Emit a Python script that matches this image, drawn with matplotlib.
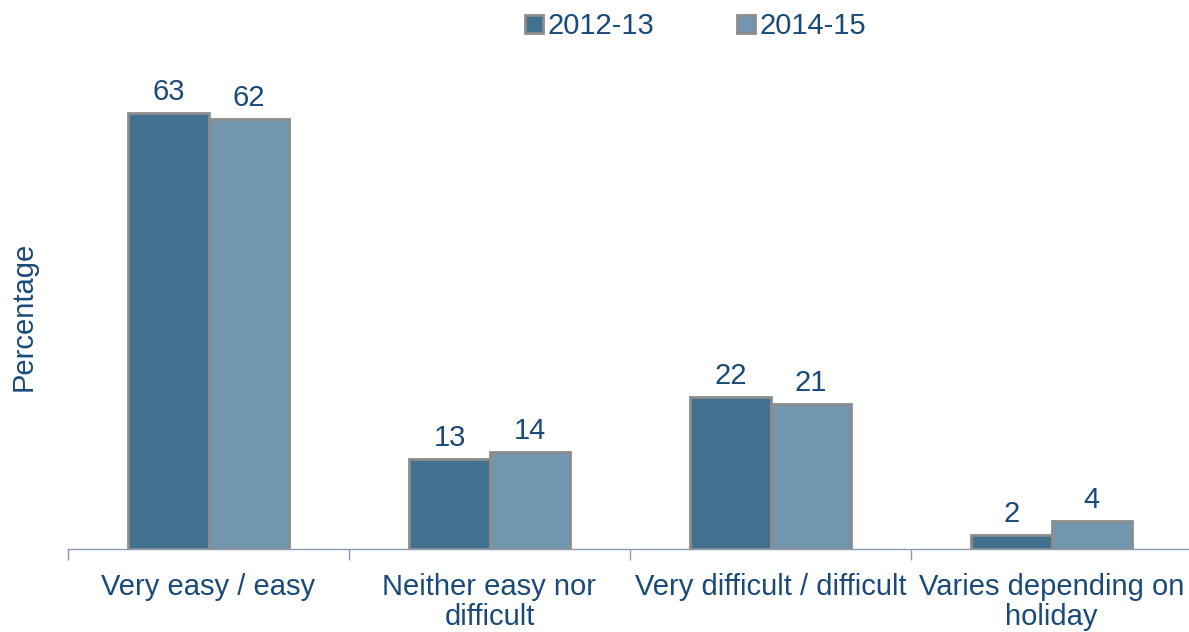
import numpy as np
import matplotlib
matplotlib.use("Agg")
import matplotlib.pyplot as plt

categories = ["Very easy / easy", "Neither easy nor\ndifficult",
              "Very difficult / difficult", "Varies depending on\nholiday"]
series_names = ["2012-13", "2014-15"]
values_2012 = [63, 13, 22, 2]
values_2014 = [62, 14, 21, 4]

text_color = "#1a4a7a"
colors = ["#41718f", "#7196ae"]
edge = "#8c8c8c"

plt.rcParams["font.family"] = ["Liberation Sans", "DejaVu Sans"]

fig = plt.figure(figsize=(11.89, 6.32), dpi=100)
ax = fig.add_axes([68 / 1189, 83 / 632, 1124 / 1189, 485 / 632])

x = np.arange(len(categories))
w = 0.285
bars1 = ax.bar(x - w / 2, values_2012, w, color=colors[0], edgecolor=edge,
               linewidth=2, label=series_names[0])
bars2 = ax.bar(x + w / 2, values_2014, w, color=colors[1], edgecolor=edge,
               linewidth=2, label=series_names[1])

for bars in (bars1, bars2):
    for b in bars:
        ax.annotate(f"{b.get_height():.0f}",
                    (b.get_x() + b.get_width() / 2, b.get_height()),
                    xytext=(0, 5), textcoords="offset points",
                    ha="center", va="bottom", fontsize=21, color=text_color)

ax.set_xlim(-0.5, 3.5)
ax.set_ylim(0, 70)
ax.set_xticks(x)
ax.set_xticklabels(categories, fontsize=21, color=text_color, linespacing=1.1)
ax.set_xticks(np.arange(-0.5, 4, 1), minor=True)
ax.tick_params(axis="x", which="major", length=0, pad=17)
ax.tick_params(axis="x", which="minor", length=8, width=1, color="#8a9ab5", direction="out")
ax.set_yticks([])
for s in ("top", "right", "left"):
    ax.spines[s].set_visible(False)
ax.spines["bottom"].set_color("#8a9ab5")
ax.spines["bottom"].set_linewidth(1)

ax.set_ylabel("Percentage", fontsize=21, color=text_color)
ax.yaxis.set_label_coords(-0.027, 0.48)

leg = fig.legend(loc="upper center", bbox_to_anchor=(0.585, 1.022), ncol=2,
                 frameon=False, fontsize=21, handlelength=0.6, handleheight=0.6,
                 handletextpad=0.15, columnspacing=2.85)
for t in leg.get_texts():
    t.set_color(text_color)

fig.savefig("out.png", dpi=100)
